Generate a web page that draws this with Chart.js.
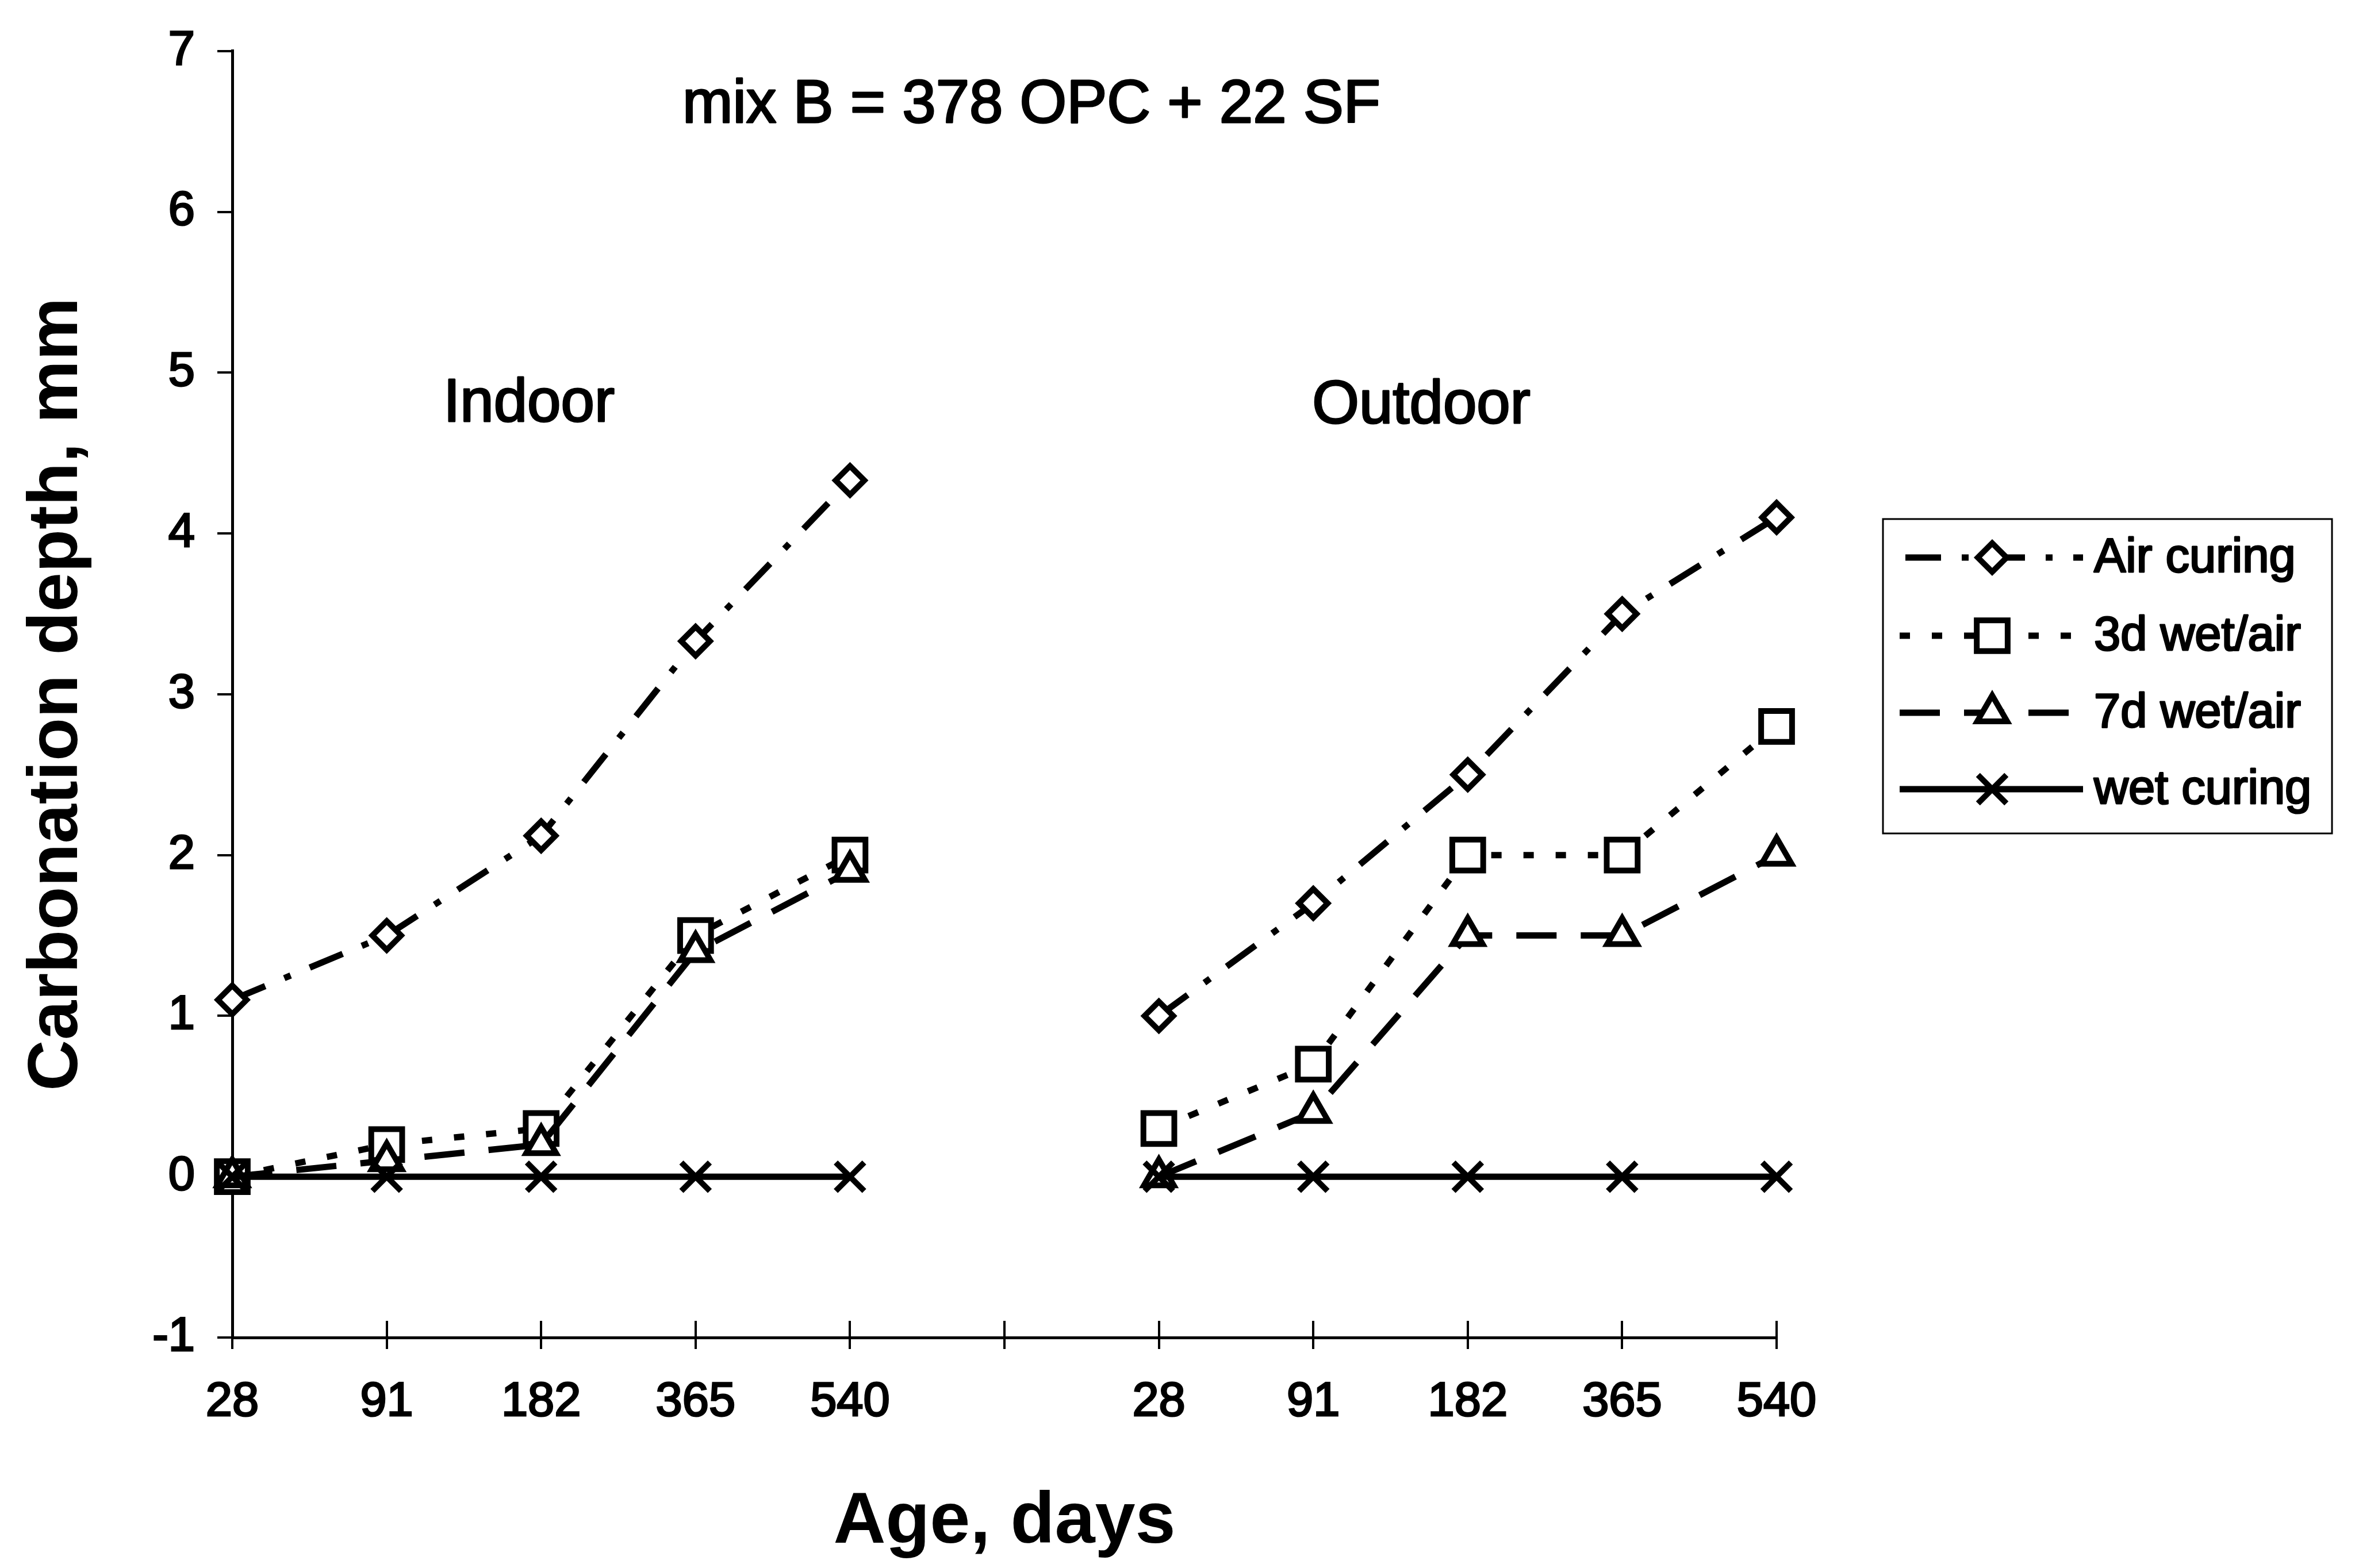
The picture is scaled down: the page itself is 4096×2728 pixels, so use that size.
<!DOCTYPE html>
<html>
<head>
<meta charset="utf-8">
<script src="https://cdn.jsdelivr.net/npm/chart.js@4.4.1/dist/chart.umd.min.js"></script>
<style>
  html, body { margin: 0; padding: 0; background: #ffffff; overflow: hidden; }
  canvas { display: block; }
</style>
</head>
<body>
<canvas id="chart" width="4096" height="2728"></canvas>
<script>
// Ages at which carbonation depth was measured (days)
const ages = ['28', '91', '182', '365', '540'];

// Curing regimes
const seriesNames = ['Air curing', '3d wet/air', '7d wet/air', 'wet curing'];

// Carbonation depth (mm), indoor exposure
const indoorAir = [1.1, 1.5, 2.12, 3.33, 4.33];
const indoor3d  = [0.0, 0.2, 0.3, 1.5, 2.0];
const indoor7d  = [0.0, 0.1, 0.2, 1.4, 1.9];
const indoorWet = [0.0, 0.0, 0.0, 0.0, 0.0];

// Carbonation depth (mm), outdoor exposure
const outdoorAir = [1.0, 1.7, 2.5, 3.5, 4.1];
const outdoor3d  = [0.3, 0.7, 2.0, 2.0, 2.8];
const outdoor7d  = [0.0, 0.4, 1.5, 1.5, 2.0];
const outdoorWet = [0.0, 0.0, 0.0, 0.0, 0.0];

// Value axis range
const yMin = -1;
const yMax = 7;
const yStep = 1;

const chartTitle = 'mix B = 378 OPC + 22 SF';
const groupNames = ['Indoor', 'Outdoor'];
const xTitle = 'Age, days';
const yTitle = 'Carbonation depth, mm';

// ---------------------------------------------------------------------------
const FONT = '"Liberation Sans", Arial, Helvetica, sans-serif';
const INK = '#000000';
const TEXT_STROKE = 3;

// Indoor block, an empty separator slot, then the outdoor block
const labels = [...ages, '', ...ages];
const joinBlocks = (a, b) => [...a, null, ...b];

const seriesData = [
  joinBlocks(indoorAir, outdoorAir),
  joinBlocks(indoor3d, outdoor3d),
  joinBlocks(indoor7d, outdoor7d),
  joinBlocks(indoorWet, outdoorWet)
];

const seriesStyle = [
  { dash: [62, 36, 12, 36], point: 'rectRot',  radius: 25 },
  { dash: [18, 38],         point: 'rect',     radius: 38 },
  { dash: [70, 42],         point: 'triangle', radius: 30 },
  { dash: [],               point: 'crossRot', radius: 35 }
];

const LINE_W = 11;
const MARK_W = 10;

const datasets = seriesNames.map((name, i) => ({
  label: name,
  data: seriesData[i],
  borderColor: INK,
  borderWidth: LINE_W,
  borderDash: seriesStyle[i].dash,
  borderCapStyle: 'butt',
  borderJoinStyle: 'miter',
  pointStyle: seriesStyle[i].point,
  pointRadius: seriesStyle[i].radius,
  pointHoverRadius: seriesStyle[i].radius,
  pointBorderWidth: MARK_W,
  pointBorderColor: INK,
  pointBackgroundColor: '#ffffff',
  tension: 0,
  spanGaps: false,
  fill: false,
  order: seriesNames.length - 1 - i
}));

// Category ticks cross the baseline: add the inner half of each mark
const crossTicks = {
  id: 'crossTicks',
  afterDatasetsDraw(chart) {
    const { ctx } = chart;
    const x = chart.scales.x;
    ctx.save();
    ctx.strokeStyle = INK;
    ctx.lineWidth = 4;
    ctx.beginPath();
    x.ticks.forEach((t, i) => {
      const px = Math.round(x.getPixelForTick(i));
      ctx.moveTo(px, x.top);
      ctx.lineTo(px, x.top - 29);
    });
    ctx.stroke();
    ctx.restore();
  }
};

function heavyText(ctx, text, x, y) {
  ctx.strokeText(text, x, y);
  ctx.fillText(text, x, y);
}

// Heading and exposure captions inside the plot
const captions = {
  id: 'captions',
  afterDraw(chart) {
    const { ctx } = chart;
    ctx.save();
    ctx.fillStyle = INK;
    ctx.strokeStyle = INK;
    ctx.lineWidth = TEXT_STROKE;
    ctx.lineJoin = 'round';
    ctx.textAlign = 'center';
    ctx.textBaseline = 'middle';
    ctx.font = `105px ${FONT}`;
    heavyText(ctx, chartTitle, 1794, 184);
    heavyText(ctx, groupNames[0], 920, 704);
    heavyText(ctx, groupNames[1], 2472, 707);
    ctx.restore();
  }
};

// Boxed legend with line-and-marker samples
const boxLegend = {
  id: 'boxLegend',
  afterDraw(chart) {
    const { ctx } = chart;
    const box = { left: 3275, top: 903, right: 4056, bottom: 1450 };
    const rows = [970, 1106, 1240, 1373];
    const lineFrom = 3304, lineTo = 3623, markX = 3465, textX = 3642;
    ctx.save();
    ctx.strokeStyle = INK;
    ctx.lineWidth = 3;
    ctx.setLineDash([]);
    ctx.strokeRect(box.left, box.top, box.right - box.left, box.bottom - box.top);

    chart.data.datasets.forEach((ds, i) => {
      const y = rows[i];
      ctx.save();
      ctx.strokeStyle = INK;
      ctx.lineWidth = LINE_W;
      ctx.lineCap = 'butt';
      ctx.setLineDash(ds.borderDash);
      ctx.lineDashOffset = i === 0 ? -10 : 0;
      ctx.beginPath();
      ctx.moveTo(lineFrom, y);
      ctx.lineTo(lineTo, y);
      ctx.stroke();
      ctx.restore();

      ctx.save();
      ctx.setLineDash([]);
      ctx.strokeStyle = INK;
      ctx.fillStyle = '#ffffff';
      ctx.lineWidth = MARK_W;
      Chart.helpers.drawPoint(ctx, {
        pointStyle: ds.pointStyle,
        radius: ds.pointRadius,
        borderWidth: MARK_W,
        rotation: 0
      }, markX, y);
      ctx.restore();

      ctx.save();
      ctx.fillStyle = INK;
      ctx.strokeStyle = INK;
      ctx.lineWidth = TEXT_STROKE;
      ctx.lineJoin = 'round';
      ctx.font = `83px ${FONT}`;
      ctx.textAlign = 'left';
      ctx.textBaseline = 'middle';
      heavyText(ctx, ds.label, textX, y + 2);
      ctx.restore();
    });
    ctx.restore();
  }
};

new Chart(document.getElementById('chart'), {
  type: 'line',
  data: { labels, datasets },
  options: {
    responsive: false,
    animation: false,
    devicePixelRatio: 1,
    layout: { padding: { left: 0, top: 84, right: 1006, bottom: 0 } },
    plugins: {
      legend: { display: false },
      tooltip: { enabled: false },
      title: { display: false }
    },
    scales: {
      x: {
        type: 'category',
        offset: false,
        afterFit(scale) { scale.height = 401; },
        grid: {
          display: true,
          drawOnChartArea: false,
          drawTicks: true,
          tickLength: 20,
          tickWidth: 4,
          tickColor: INK,
          color: INK,
          lineWidth: 4
        },
        border: { display: true, color: INK, width: 5 },
        ticks: {
          autoSkip: false,
          maxRotation: 0,
          minRotation: 0,
          padding: 43,
          color: INK,
          textStrokeColor: INK,
          textStrokeWidth: TEXT_STROKE,
          font: { family: FONT, size: 83 }
        },
        title: {
          display: true,
          text: xTitle,
          color: INK,
          font: { family: FONT, size: 126, weight: 'bold' },
          padding: { top: 0, bottom: 3 }
        }
      },
      y: {
        min: yMin,
        max: yMax,
        afterFit(scale) { scale.width = 404; },
        grid: {
          display: true,
          drawOnChartArea: false,
          drawTicks: true,
          tickLength: 26,
          tickWidth: 4,
          tickColor: INK,
          color: INK,
          lineWidth: 4
        },
        border: { display: true, color: INK, width: 5 },
        ticks: {
          stepSize: yStep,
          padding: 39,
          color: INK,
          textStrokeColor: INK,
          textStrokeWidth: TEXT_STROKE,
          font: { family: FONT, size: 83 }
        },
        title: {
          display: true,
          text: yTitle,
          color: INK,
          font: { family: FONT, size: 123, weight: 'bold' },
          padding: { top: 26, bottom: 0 }
        }
      }
    }
  },
  plugins: [crossTicks, captions, boxLegend]
});
</script>
</body>
</html>
